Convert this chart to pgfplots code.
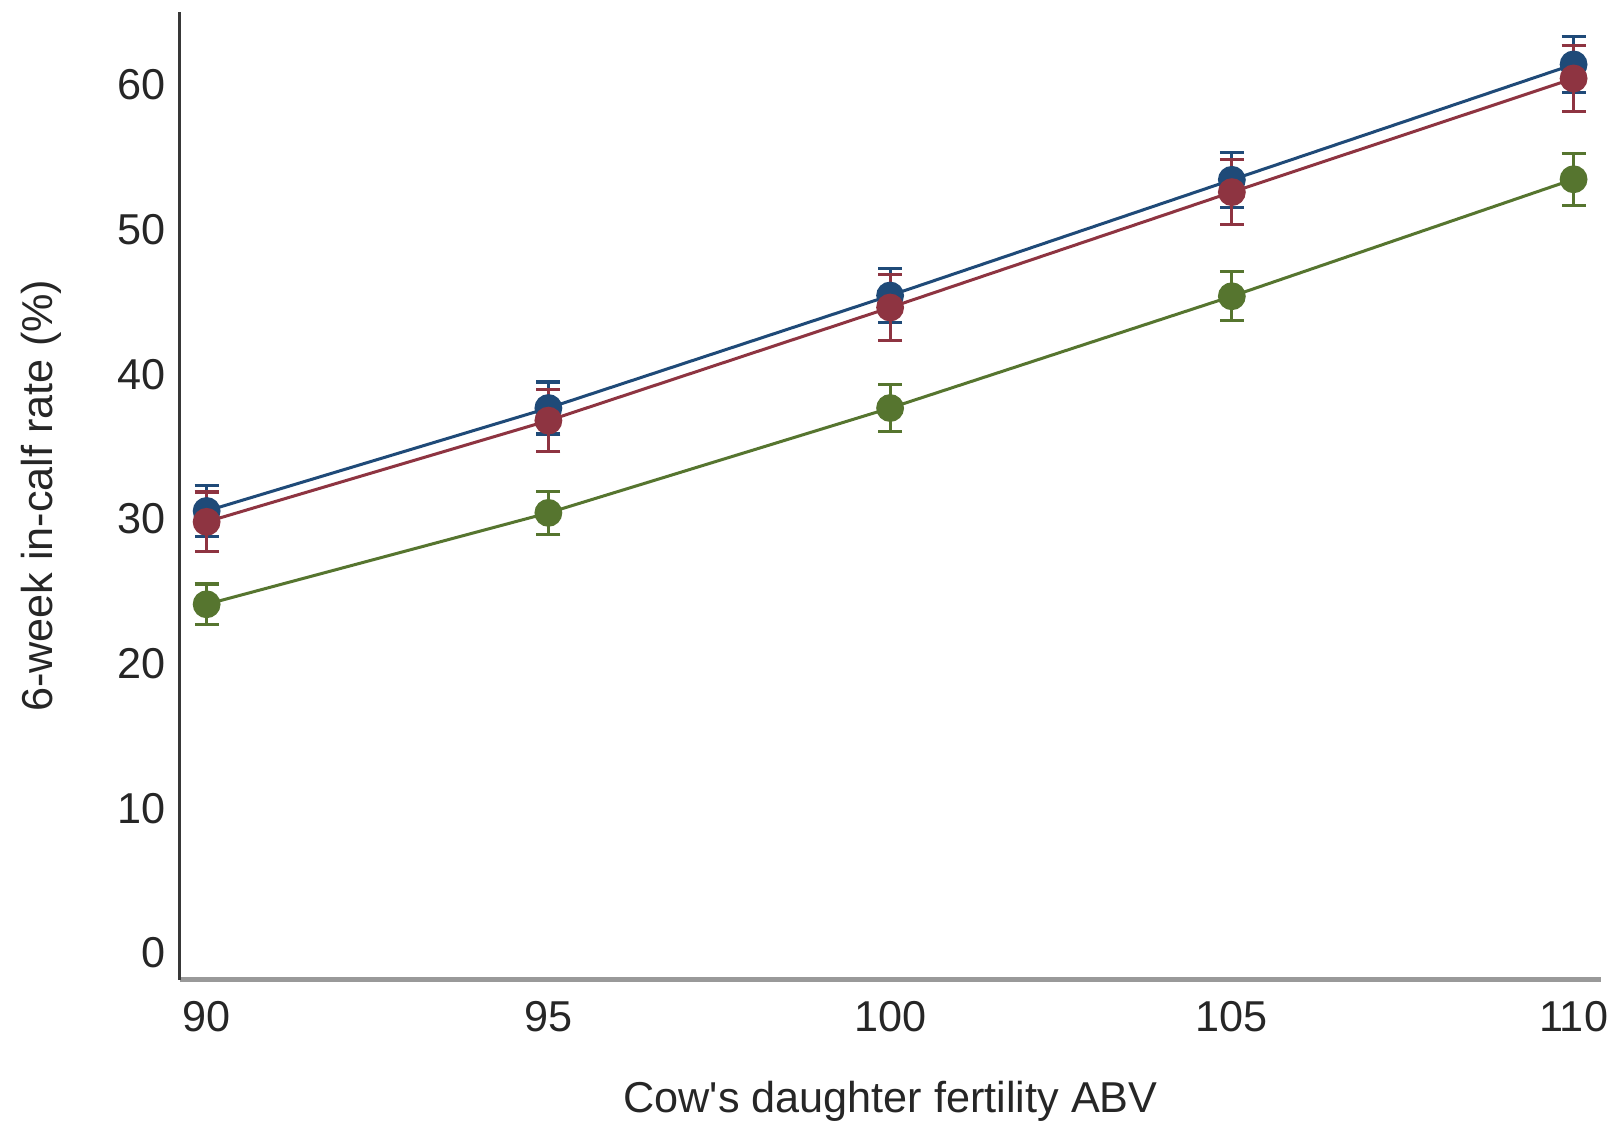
\documentclass[border=0pt]{standalone}
\usepackage{pgfplots}
\pgfplotsset{compat=1.18}
\usepackage{fontspec}
\setmainfont{Liberation Sans}
\definecolor{cblue}{HTML}{1F4A78}
\definecolor{cred}{HTML}{8E3441}
\definecolor{cgreen}{HTML}{56752F}
\begin{document}
\begin{tikzpicture}
\useasboundingbox (-1.786cm,-1.44cm) rectangle (14.21cm,9.72cm);
\begin{axis}[
  scale only axis,
  width=14.1cm, height=9.6cm,
  xmin=89.61, xmax=110.4,
  ymin=-1.85, ymax=65.05,
  axis x line*=bottom, axis y line*=left,
  x axis line style={draw=black!40, line width=1.6pt, -},
  y axis line style={draw=black!78, line width=0.85pt, -},
  xtick={90,95,100,105,110},
  ytick={0,10,20,30,40,50,60},
  major tick length=0pt,
  tick label style={font=\fontsize{12.2}{14}\selectfont, text=black!85},
  /pgf/number format/assume math mode=true,
  xticklabel style={yshift=-0.09cm},
  yticklabel style={xshift=-0.02cm},
  xlabel={Cow\textquotesingle s daughter fertility ABV},
  ylabel={6-week in-calf rate (\%)},
  label style={font=\fontsize{12.2}{14}\selectfont, text=black!85},
  xlabel style={at={(axis description cs:0.5,-0.126)}, anchor=center},
  ylabel style={at={(axis description cs:-0.0979,0.5)}, anchor=center},
  clip=false,
]
\addplot[color=cgreen, line width=0.85pt, mark=*, mark size=3.5pt,
  error bars/.cd, y dir=both, y explicit,
  error bar style={line width=0.9pt, cgreen},
  error mark options={rotate=90, mark size=3.4pt, line width=0.9pt, cgreen}]
  coordinates {
  (90,24.1) +- (0,1.4)
  (95,30.42) +- (0,1.5)
  (100,37.67) +- (0,1.6)
  (105,45.4) +- (0,1.7)
  (110,53.49) +- (0,1.8)
  };
\addplot[color=cblue, line width=0.85pt, mark=*, mark size=3.5pt,
  error bars/.cd, y dir=both, y explicit,
  error bar style={line width=0.9pt, cblue},
  error mark options={rotate=90, mark size=3.4pt, line width=0.9pt, cblue}]
  coordinates {
  (90,30.55) +- (0,1.78)
  (95,37.67) +- (0,1.8)
  (100,45.45) +- (0,1.85)
  (105,53.45) +- (0,1.9)
  (110,61.43) +- (0,1.94)
  };
\addplot[color=cred, line width=0.85pt, mark=*, mark size=3.5pt,
  error bars/.cd, y dir=both, y explicit,
  error bar style={line width=0.9pt, cred},
  error mark options={rotate=90, mark size=3.4pt, line width=0.9pt, cred}]
  coordinates {
  (90,29.8) +- (0,2.07)
  (95,36.8) +- (0,2.15)
  (100,44.62) +- (0,2.27)
  (105,52.6) +- (0,2.25)
  (110,60.46) +- (0,2.27)
  };
\end{axis}
\end{tikzpicture}
\end{document}
